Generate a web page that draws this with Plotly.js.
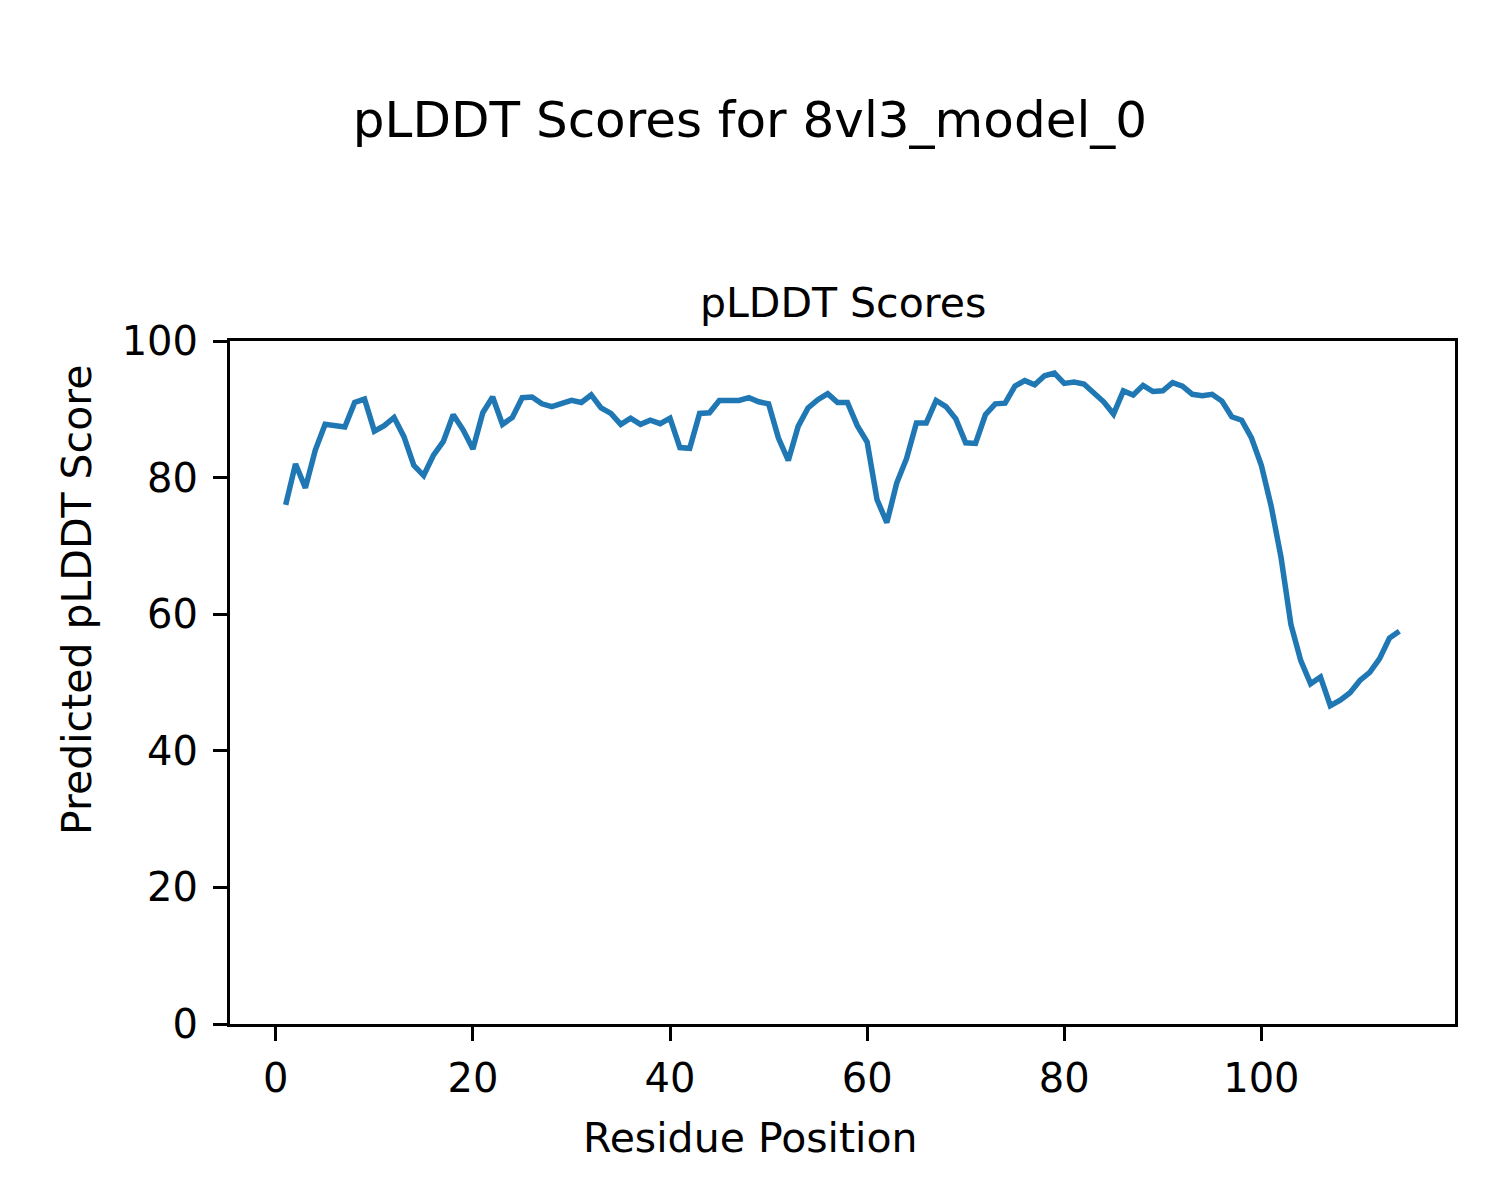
<!DOCTYPE html>
<html><head><meta charset="utf-8">
<script src="https://cdn.plot.ly/plotly-3.0.1.min.js"></script>
<style>html,body{margin:0;padding:0;background:#fff}</style>
</head><body>
<div id="chart" style="width:1500px;height:1200px"></div>
<script>
const residues = Array.from({length:114}, (_, i) => i + 1);
const plddt = [
76.0,82.0,78.5,84.0,87.8,87.6,87.4,91.0,91.5,86.8,
87.6,88.8,86.0,81.8,80.3,83.3,85.3,89.2,87.0,84.2,
89.5,91.8,87.8,88.8,91.7,91.8,90.8,90.4,90.8,91.3,
91.0,92.1,90.2,89.4,87.8,88.7,87.8,88.4,87.9,88.7,
84.4,84.3,89.4,89.5,91.3,91.3,91.3,91.7,91.1,90.8,
85.8,82.5,87.5,90.2,91.4,92.3,91.0,91.0,87.6,85.2,
76.8,73.4,79.2,82.8,88.0,88.0,91.3,90.4,88.6,85.1,
85.0,89.2,90.8,90.9,93.4,94.2,93.6,94.9,95.3,93.8,
94.0,93.7,92.4,91.1,89.3,92.7,92.1,93.5,92.6,92.7,
93.9,93.4,92.2,92.0,92.2,91.2,88.9,88.4,85.8,81.8,
75.8,68.3,58.5,53.2,49.8,50.8,46.6,47.4,48.5,50.3,
51.5,53.5,56.5,57.5
];
const xTicks = [0,20,40,60,80,100];
const yTicks = [0,20,40,60,80,100];
const figTitle = "pLDDT Scores for 8vl3_model_0";
const axTitle = "pLDDT Scores";
const xLabel = "Residue Position";
const yLabel = "Predicted pLDDT Score";

const font = "DejaVu Sans, sans-serif";
const W = 1500, H = 1200, L = 230, R = 45, T = 341, B = 176;
const pw = W - L - R, ph = H - T - B;
const trace = {
  x: residues, y: plddt, type: "scatter", mode: "lines",
  line: {color: "#1f77b4", width: 5.5}, hoverinfo: "skip"
};
const axisCommon = {
  showgrid: false, zeroline: false, showline: true, mirror: true,
  linecolor: "#000", linewidth: 3, ticks: "outside", ticklen: 14,
  tickwidth: 3, tickcolor: "#000", tickfont: {family: font, size: 40, color: "#000"}
};
const txtFont = {family: font, size: 41, color: "#000"};
const layout = {
  width: W, height: H,
  paper_bgcolor: "#fff", plot_bgcolor: "#fff",
  margin: {l: L, r: R, t: T, b: B},
  showlegend: false,
  title: {text: figTitle, font: {family: font, size: 50, color: "#000"},
          x: 0.5, xanchor: "center", xref: "container", y: 1 - 119/H, yanchor: "middle"},
  xaxis: Object.assign({}, axisCommon, {
    range: [-4.65, 119.65], tickvals: xTicks, ticktext: xTicks.map(String),
    ticklabelstandoff: 3
  }),
  yaxis: Object.assign({}, axisCommon, {
    range: [0, 100], tickvals: yTicks, ticktext: yTicks.map(String),
    ticklabelstandoff: 7
  }),
  annotations: [
    {text: axTitle, xref: "paper", yref: "paper", x: 0.5, y: 1, yshift: 38,
     xanchor: "center", yanchor: "middle", showarrow: false, font: txtFont},
    {text: xLabel, xref: "paper", yref: "paper", x: (750 - L) / pw, y: (H - B - 1138) / ph,
     xanchor: "center", yanchor: "middle", showarrow: false, font: txtFont},
    {text: yLabel, xref: "paper", yref: "paper", x: (77 - L) / pw, y: (H - B - 600) / ph,
     xanchor: "center", yanchor: "middle", showarrow: false, textangle: -90, font: txtFont}
  ]
};
Plotly.newPlot("chart", [trace], layout, {staticPlot: true, displayModeBar: false});
</script>
</body></html>
